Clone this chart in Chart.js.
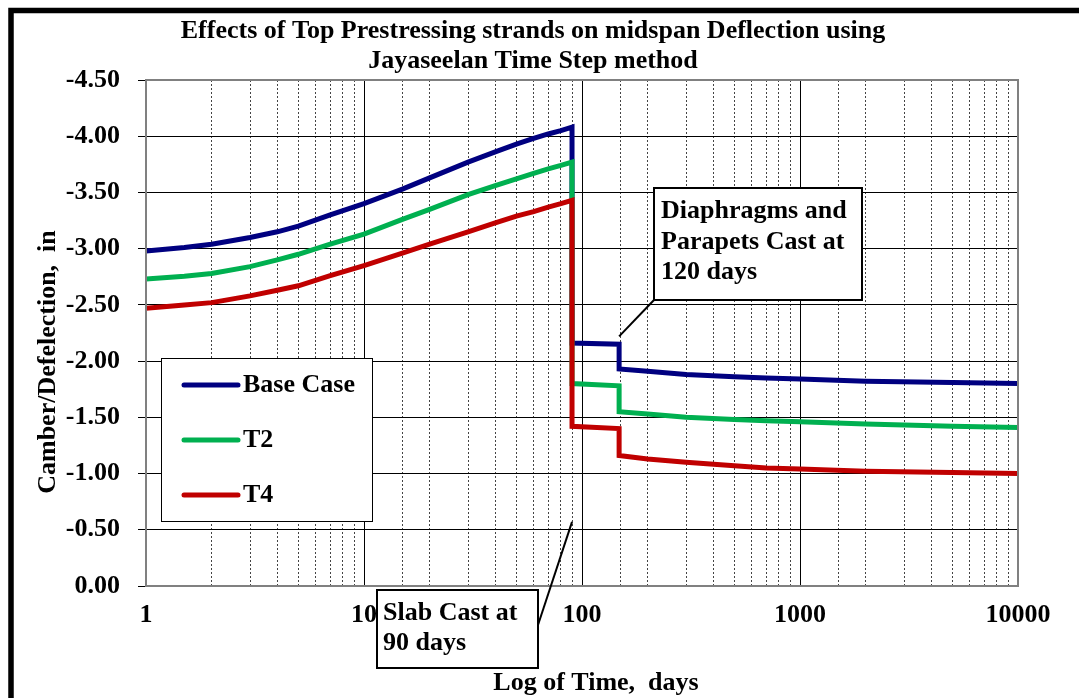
<!DOCTYPE html>
<html lang="en">
  <head>
    <meta charset="UTF-8" />
    <title>Top Prestressing Strands - Midspan Deflection</title>
    <script src="https://cdn.jsdelivr.net/npm/chart.js"></script>
    <style>
      body { margin: 0; background: #fff; }
      .chart-box { width: 1079px; height: 698px; position: relative; }
    </style>
  </head>
  <body>
    <div class="chart-box">
      <canvas id="deflectionChart"></canvas>
    </div>

    <script>
      // time in days (repeated values make the vertical steps)
      const days = [1, 1.5, 2, 3, 4, 5, 7, 10, 15, 20, 30, 40, 50, 60, 70, 80, 90,
                    90, 148, 148, 200, 300, 500, 700, 1000, 2000, 5000, 10000];

      // camber / deflection, in
      const baseCase = [-2.98, -3.01, -3.04, -3.10, -3.15, -3.20, -3.30, -3.40, -3.53, -3.63, -3.77, -3.86, -3.93, -3.98, -4.02, -4.05, -4.08,
                        -2.16, -2.15, -1.93, -1.91, -1.88, -1.86, -1.85, -1.84, -1.82, -1.81, -1.80];
      const t2 = [-2.73, -2.755, -2.78, -2.84, -2.90, -2.95, -3.04, -3.13, -3.26, -3.35, -3.48, -3.56, -3.62, -3.67, -3.71, -3.74, -3.77,
                  -1.80, -1.78, -1.55, -1.53, -1.50, -1.48, -1.47, -1.46, -1.44, -1.42, -1.41];
      const t4 = [-2.47, -2.50, -2.52, -2.58, -2.63, -2.67, -2.76, -2.85, -2.96, -3.04, -3.15, -3.23, -3.29, -3.33, -3.37, -3.40, -3.43,
                  -1.42, -1.40, -1.16, -1.13, -1.10, -1.07, -1.05, -1.04, -1.02, -1.01, -1.00];

      const seriesNames = ["Base Case", "T2", "T4"];
      const seriesColors = ["#000080", "#00b050", "#c00000"];

      const titleLines = ["Effects of Top Prestressing strands on midspan Deflection using", "Jayaseelan Time Step method"];
      const xTitle = "Log of Time,  days";
      const yTitle = "Camber/Defelection,  in";
      const slabNote = ["Slab Cast at", "90 days"];
      const diaphragmNote = ["Diaphragms and", "Parapets Cast at", "120 days"];

      const FONT = '"Liberation Serif", "Times New Roman", serif';

      function toPoints(values) {
        return values.map((v, i) => ({ x: days[i], y: v }));
      }

      function isDecade(v) {
        const l = Math.log10(v);
        return Math.abs(l - Math.round(l)) < 1e-9;
      }

      // titles, legend, callout boxes and the outer frame
      const decorations = {
        id: "decorations",
        afterDraw(chart) {
          const ctx = chart.ctx;
          const area = chart.chartArea;
          const xs = chart.scales.x;
          const ys = chart.scales.y;
          ctx.save();

          // grey plot border
          ctx.strokeStyle = "#808080";
          ctx.lineWidth = 2;
          ctx.strokeRect(area.left, area.top, area.right - area.left, area.bottom - area.top);

          ctx.fillStyle = "#000";
          ctx.textBaseline = "middle";

          // chart title
          ctx.font = "bold 26px " + FONT;
          ctx.textAlign = "center";
          ctx.fillText(titleLines[0], 533, 31);
          ctx.fillText(titleLines[1], 533, 61);

          // axis titles
          ctx.fillText(xTitle, 596, 683);
          ctx.save();
          ctx.translate(48, 362);
          ctx.rotate(-Math.PI / 2);
          ctx.fillText(yTitle, 0, 0);
          ctx.restore();

          // legend
          ctx.fillStyle = "#fff";
          ctx.fillRect(161, 358, 211, 163);
          ctx.strokeStyle = "#000";
          ctx.lineWidth = 1;
          ctx.strokeRect(161.5, 358.5, 211, 163);
          ctx.font = "bold 26px " + FONT;
          ctx.textAlign = "left";
          chart.data.datasets.forEach((ds, i) => {
            const y = 385 + i * 55;
            ctx.strokeStyle = ds.borderColor;
            ctx.lineWidth = 5;
            ctx.lineCap = "round";
            ctx.beginPath();
            ctx.moveTo(184, y);
            ctx.lineTo(238, y);
            ctx.stroke();
            ctx.fillStyle = "#000";
            ctx.fillText(ds.label, 243, y);
          });
          ctx.lineCap = "butt";

          // callout: slab cast
          ctx.strokeStyle = "#000";
          ctx.lineWidth = 2;
          ctx.beginPath();
          ctx.moveTo(537, 628);
          ctx.lineTo(xs.getPixelForValue(90), ys.getPixelForValue(-0.57));
          ctx.stroke();
          ctx.fillStyle = "#fff";
          ctx.fillRect(377, 590, 161, 78);
          ctx.strokeRect(377, 590, 161, 78);
          ctx.fillStyle = "#000";
          ctx.fillText(slabNote[0], 383, 613);
          ctx.fillText(slabNote[1], 383, 643);

          // callout: diaphragms and parapets
          ctx.beginPath();
          ctx.moveTo(654, 300);
          ctx.lineTo(xs.getPixelForValue(148), ys.getPixelForValue(-2.22));
          ctx.stroke();
          ctx.fillStyle = "#fff";
          ctx.fillRect(654, 188, 208, 112);
          ctx.strokeRect(654, 188, 208, 112);
          ctx.fillStyle = "#000";
          ctx.fillText(diaphragmNote[0], 661, 211);
          ctx.fillText(diaphragmNote[1], 661, 242);
          ctx.fillText(diaphragmNote[2], 661, 272);

          // outer frame (runs off the right and bottom edges)
          ctx.lineWidth = 5.5;
          ctx.strokeRect(11, 10.5, 1200, 1200);

          ctx.restore();
        },
      };

      const datasets = [baseCase, t2, t4].map((vals, i) => ({
        label: seriesNames[i],
        data: toPoints(vals),
        borderColor: seriesColors[i],
        backgroundColor: seriesColors[i],
        borderWidth: 5,
        pointRadius: 0,
        tension: 0,
        order: 3 - i, // red on top, blue underneath
      }));

      new Chart(document.getElementById("deflectionChart"), {
        type: "line",
        data: { datasets: datasets },
        options: {
          responsive: true,
          maintainAspectRatio: false,
          animation: false,
          layout: { padding: { top: 80, right: 61, left: 0, bottom: 0 } },
          plugins: {
            legend: { display: false },
            title: { display: false },
            tooltip: { enabled: false },
          },
          scales: {
            x: {
              type: "logarithmic",
              min: 1,
              max: 10000,
              afterFit(scale) { scale.height = 112; },
              grid: {
                drawTicks: false,
                color: (c) => (c.tick && isDecade(c.tick.value) ? "#000" : "#444"),
                lineWidth: 1,
              },
              border: {
                color: "#808080",
                width: 2,
                dash: (c) => (c.tick && !isDecade(c.tick.value) ? [2, 2] : []),
              },
              ticks: {
                autoSkip: false,
                maxRotation: 0,
                minRotation: 0,
                padding: 14,
                color: "#000",
                font: { family: FONT, size: 26, weight: "bold" },
                callback: (v) => (isDecade(v) ? String(v) : ""),
              },
            },
            y: {
              min: -4.5,
              max: 0,
              reverse: true,
              afterFit(scale) { scale.width = 146; },
              grid: { color: "#000", lineWidth: 1, tickLength: 8, tickColor: "#000" },
              border: { color: "#808080", width: 2 },
              ticks: {
                stepSize: 0.5,
                padding: 18,
                color: "#000",
                font: { family: FONT, size: 26, weight: "bold" },
                callback: (v) => v.toFixed(2),
              },
            },
          },
        },
        plugins: [decorations],
      });
    </script>
  </body>
</html>
